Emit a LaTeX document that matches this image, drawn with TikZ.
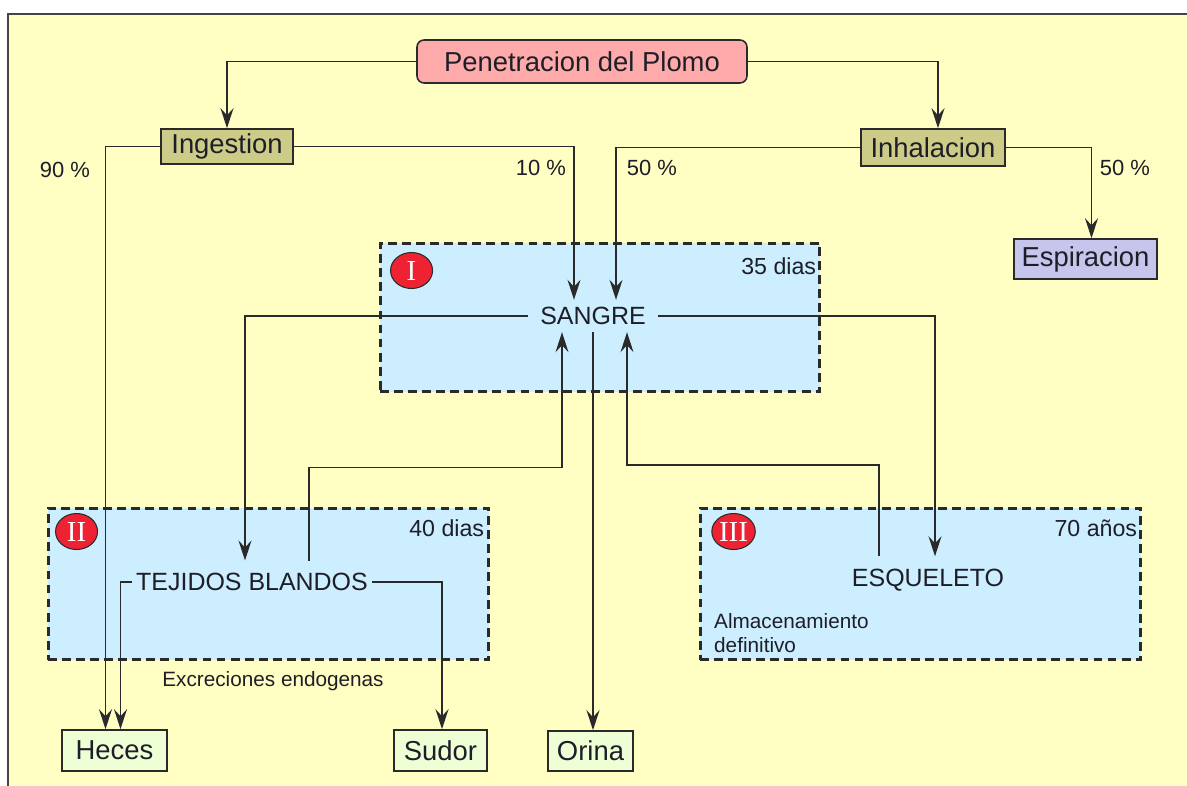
\documentclass[tikz,border=0pt]{standalone}
\usepackage{fontspec}
\setmainfont{Liberation Sans}
\newfontfamily\romanfont{Liberation Serif}
\usetikzlibrary{positioning,calc,arrows.meta,shapes.geometric}
\definecolor{bgyellow}{HTML}{FFFFC4}
\definecolor{framegray}{HTML}{444444}
\definecolor{linegray}{HTML}{2A2A2A}
\definecolor{zoneblue}{HTML}{CCEEFF}
\definecolor{zonegray}{HTML}{2A2A2A}
\definecolor{olive}{HTML}{CCCC88}
\definecolor{rosy}{HTML}{FFAAAA}
\definecolor{lavender}{HTML}{C6C6EC}
\definecolor{pale}{HTML}{EEFFD6}
\definecolor{badgered}{HTML}{EE2233}
\definecolor{textdark}{HTML}{1E1E28}

\begin{document}
\begin{tikzpicture}[x=0.02cm,y=-0.02cm,text=textdark,
    wire/.style={draw=linegray,line width=0.9pt},
    flow/.style={wire,-{Stealth[length=4mm,width=2.6mm,inset=1.4mm]}},
    stage/.style={draw=linegray,line width=0.9pt,inner sep=0pt,font=\fontsize{15.6}{18}\selectfont},
    zone/.style={draw=zonegray,fill=zoneblue,line width=1.7pt,dash pattern=on 5pt off 3pt,inner sep=0pt},
    organ/.style={font=\fontsize{14.2}{17}\selectfont},
    badge/.style={ellipse,draw=linegray,line width=0.6pt,fill=badgered,text=white,inner sep=0.5pt,
      minimum width=0.84cm,minimum height=0.72cm,font=\romanfont\fontsize{16.5}{16.5}\selectfont},
    period/.style={anchor=east,inner sep=0pt,font=\fontsize{13.2}{15}\selectfont},
    pct/.style={font=\fontsize{12.5}{15}\selectfont},
    note/.style={font=\fontsize{11.8}{13.7}\selectfont}]
    \useasboundingbox (0,0) rectangle (1187,786);
    \fill[bgyellow] (8,14) rectangle (1187,786);
    \draw[framegray,line width=1.2pt] (8,786) -- (8,14) -- (1187,14);

    %Zones
    \node[zone,minimum width=8.8cm,minimum height=2.98cm] at (600,317.5) (zoneI) {};
    \node[zone,minimum width=8.82cm,minimum height=3.04cm] at (268.5,584) (zoneII) {};
    \node[zone,minimum width=8.82cm,minimum height=3.04cm] at (920.5,584) (zoneIII) {};
    \node[badge] at ($(zoneI.north west)+(33,29)$) (bI) {I};
    \node[badge] at ($(zoneII.north west)+(30,25)$) (bII) {II};
    \node[badge] at ($(zoneIII.north west)+(35,25)$) (bIII) {III};
    \node[period] at ($(zoneI.north east)+(-5,25)$) (tI) {35 dias};
    \node[period] at ($(zoneII.north east)+(-6,22)$) (tII) {40 dias};
    \node[period] at ($(zoneIII.north east)+(-5,22)$) (tIII) {70 años};

    %Nodes
    \node[stage,fill=rosy,rounded corners=4pt,minimum width=6.6cm,minimum height=0.86cm] at (582,61.5) (pen) {Penetracion del Plomo};
    \node[stage,fill=olive,minimum width=2.64cm,minimum height=0.7cm] at (227,146.5) (ing) {Ingestion};
    \node[stage,fill=olive,minimum width=2.88cm,minimum height=0.74cm] at (933,147.5) (inh) {Inhalacion};
    \node[stage,fill=lavender,minimum width=2.86cm,minimum height=0.8cm] at (1085.5,259) (esp) {Espiracion};
    \node[organ,inner xsep=7pt,inner ysep=4pt] at (593,316) (sangre) {SANGRE};
    \node[organ,inner xsep=2pt,inner ysep=7pt] at (252,582) (tejidos) {TEJIDOS BLANDOS};
    \node[organ,inner ysep=7pt] at (928,580) (esqueleto) {ESQUELETO};
    \node[stage,fill=pale,minimum width=2.1cm,minimum height=0.82cm] at (114.5,750.5) (heces) {Heces};
    \node[stage,fill=pale,minimum width=1.86cm,minimum height=0.82cm] at (440.5,750.5) (sudor) {Sudor};
    \node[stage,fill=pale,minimum width=1.7cm,minimum height=0.8cm] at (590.5,751) (orina) {Orina};

    \node[pct] at (65,170) (p90) {90 \%};
    \node[pct] at (541,168) (p10) {10 \%};
    \node[pct] at (652,168) (p50a) {50 \%};
    \node[pct] at (1125,168) (p50b) {50 \%};
    \node[note] at (273,681) (excr) {Excreciones endogenas};
    \node[note,align=left,anchor=west] at (708,633) (alm) {Almacenamiento\\definitivo};

    %Lines
    \draw[flow] (pen.west) -| (ing.north);
    \draw[flow] (pen.east) -| ($(inh.north)+(5,0)$);
    \draw[flow] (ing.west) -| ($(heces.north)+(-9,0)$);
    \draw[flow] (ing.east) -| ($(sangre.north)+(-19,0)$);
    \draw[flow] (inh.west) -| ($(sangre.north)+(23,0)$);
    \draw[flow] (inh.east) -| ($(esp.north)+(6,0)$);
    \draw[flow] (sangre.west) -| ($(tejidos.north)+(-7,0)$);
    \draw[flow] (sangre.east) -| ($(esqueleto.north)+(7,0)$);
    \draw[flow] (sangre.south) -- (sangre.south |- orina.north);
    \draw[flow] ($(tejidos.north)+(57,0)$) -- ++(0,-93) -| ($(sangre.south)+(-31,0)$);
    \draw[flow] ($(esqueleto.north)+(-49,0)$) -- ++(0,-91) -| ($(sangre.south)+(34,0)$);
    \draw[flow] (tejidos.west) -| ($(heces.north)+(6,0)$);
    \draw[flow] (tejidos.east) -| ($(sudor.north)+(1.5,0)$);
\end{tikzpicture}
\end{document}
